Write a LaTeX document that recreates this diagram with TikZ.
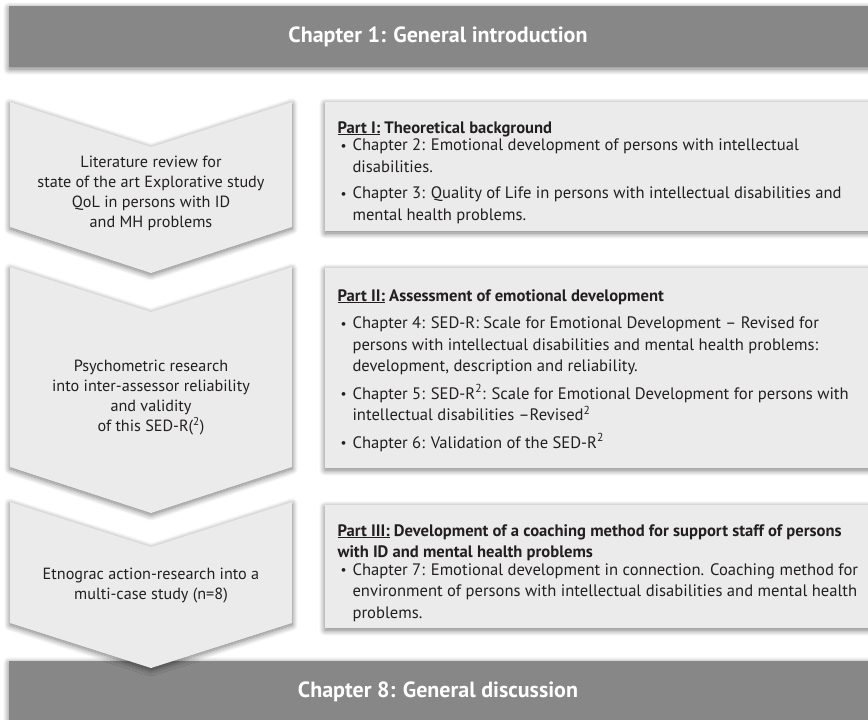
\documentclass[tikz,border=0pt]{standalone}
\usepackage{fontspec}
\setmainfont{PT Sans}
\usetikzlibrary{shadows.blur}

\definecolor{bannergray}{RGB}{135,135,135}
\definecolor{panelgray}{RGB}{235,235,235}
\definecolor{ink}{RGB}{35,31,32}

% bullet and hanging indent for the chapter lists
\newcommand{\bul}{\makebox[15pt][l]{\hspace{3pt}\raisebox{0.5pt}{\scalebox{0.8}{•}}}}
\newcommand{\ind}{\makebox[15pt]{}}
% small raised two for SED-R squared
\newcommand{\sqd}{\textsuperscript{2}}

\tikzset{
  softshadow/.style={blur shadow={shadow xshift=0pt, shadow yshift=-2pt,
      shadow blur radius=6pt, shadow blur steps=12, shadow opacity=55}},
  banner/.style={fill=bannergray, softshadow},
  panel/.style={fill=panelgray, softshadow},
  bannertext/.style={text=white, font=\fontsize{22}{26}\selectfont\bfseries},
  flowtext/.style={text=ink, align=center, font=\fontsize{16.2}{20}\selectfont},
  % anchored at the baseline of the last line
  listtext/.style={text=ink, align=left, anchor=base west,
      font=\fontsize{16.6}{21.5}\selectfont},
}

\begin{document}
\begin{tikzpicture}[x=1pt, y=-1pt]
  \useasboundingbox (0,0) rectangle (868,720);

  % opening chapter
  \path[banner] (9,6) rectangle (890,67);
  \node[bannertext] (intro) at (438,37) {Chapter 1: General introduction};

  % research steps as chevrons
  \path[panel] (10,102) -- (151,147) -- (292,102) -- (292,227) -- (151,273) -- (10,227) -- cycle;
  \path[panel] (10,267) -- (151,312) -- (292,267) -- (292,467) -- (151,513) -- (10,467) -- cycle;

  % parts of the thesis
  \path[panel] (325,102) rectangle (890,231);
  \path[panel] (325,268) rectangle (890,468);
  \path[panel] (325,505) rectangle (890,628);

  % closing chapter, overlapped by the last chevron
  \path[banner] (9,661) rectangle (890,740);
  \path[panel] (10,502) -- (151,547) -- (292,502) -- (292,623) -- (151,668) -- (10,623) -- cycle;
  \node[bannertext] (discussion) at (438,692) {Chapter 8: General discussion};

  % chevron labels
  \node[flowtext] (step1) at (151,193) {Literature review for\\state of the art Explorative study\\QoL in persons with ID\\and MH problems};
  \node[flowtext] (step2) at (151,398) {Psychometric research\\into inter-assessor reliability\\and validity\\of this SED-R(\sqd)};
  \node[flowtext] (step3) at (151,586) {Etnograc action-research into a\\multi-case study (n=8)};

  % part descriptions
  \node[listtext] (part1) at (334,220) {\textbf{\underline{Part I:} Theoretical background}\\[-4pt]
    \bul Chapter 2: Emotional development of persons with intellectual\\
    \ind disabilities.\\[5pt]
    \bul Chapter 3: Quality of Life in persons with intellectual disabilities and\\
    \ind mental health problems.};

  \node[listtext] (part2) at (334,448) {\textbf{\underline{Part II:} Assessment of emotional development}\\[6pt]
    \bul Chapter 4: SED-R: Scale for Emotional Development – Revised for\\
    \ind persons with intellectual disabilities and mental health problems:\\
    \ind development, description and reliability.\\[6pt]
    \bul Chapter 5: SED-R\sqd: Scale for Emotional Development for persons with\\
    \ind intellectual disabilities –Revised\sqd\\[6pt]
    \bul Chapter 6: Validation of the SED-R\sqd};

  \node[listtext] (part3) at (334,618) {\textbf{\underline{Part III:} Development of a coaching method for support staff of persons}\\
    \textbf{with ID and mental health problems}\\[-4pt]
    \bul Chapter 7: Emotional development in connection. Coaching method for\\
    \ind environment of persons with intellectual disabilities and mental health\\
    \ind problems.};
\end{tikzpicture}
\end{document}
